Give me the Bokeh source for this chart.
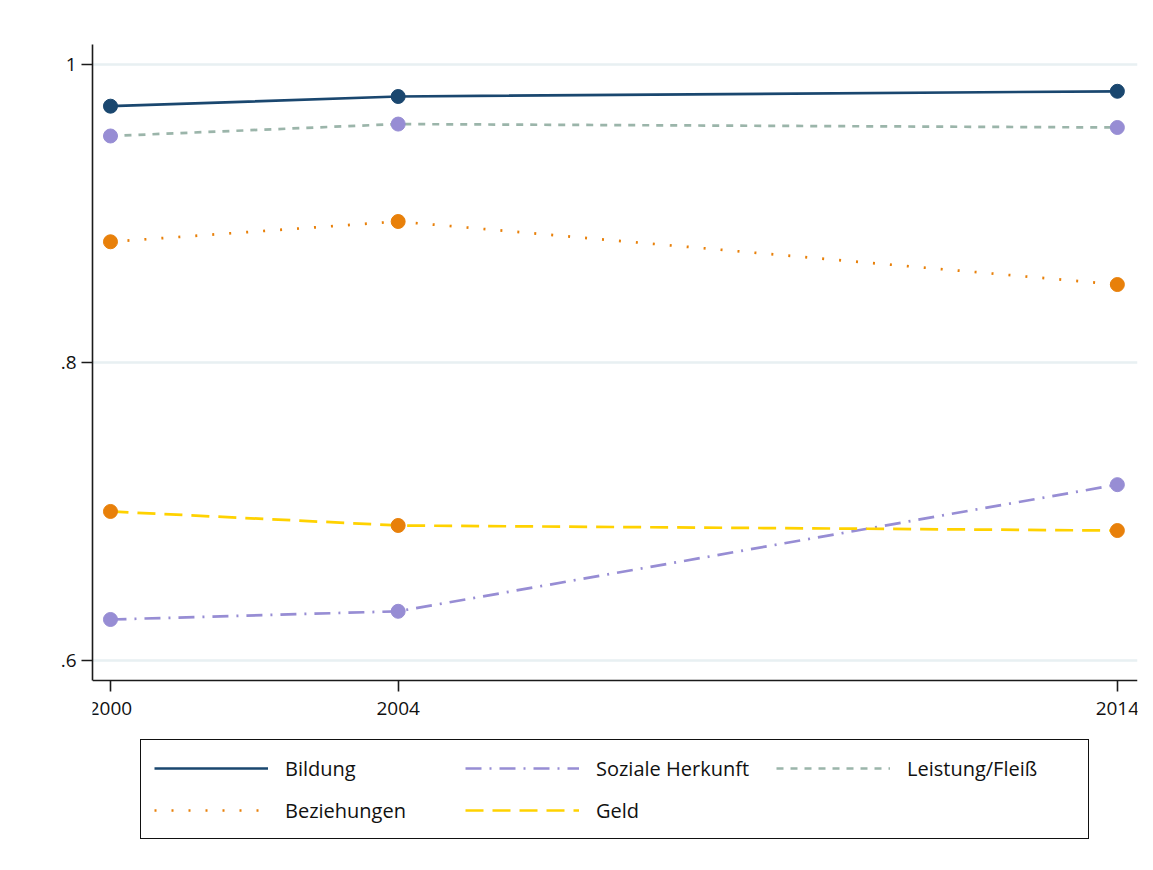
from bokeh.plotting import figure
from bokeh.models import Legend, LegendItem, FixedTicker, Range1d
from bokeh.embed import file_html
from bokeh.resources import INLINE

years = [2000, 2004, 2014]
bildung = [0.972, 0.9785, 0.982]
soziale = [0.6275, 0.633, 0.718]
leistung = [0.952, 0.960, 0.9577]
beziehungen = [0.881, 0.8946, 0.8523]
geld = [0.700, 0.6906, 0.6872]

x_ticks = [2000, 2004, 2014]
y_ticks = [0.6, 0.8, 1.0]
y_tick_labels = [".6", ".8", "1"]

FONT = "Open Sans"

Y_TOP = 1.0134
Y_AXIS_BOTTOM = 0.5866
Y_FRAME_BOTTOM = Y_TOP - 806 / 1490.0

p = figure(width=1145, height=860, output_backend="svg", toolbar_location=None,
           x_range=Range1d(1999.75, 2014.28), y_range=Range1d(Y_FRAME_BOTTOM, Y_TOP),
           min_border_left=92, min_border_right=8, min_border_top=44, min_border_bottom=10)
p.outline_line_color = None
p.background_fill_color = "white"
p.border_fill_color = "white"

navy = "#1a476f"
lav = "#978dd4"
sea = "#9bb5aa"
orange = "#e8800a"
gold = "#ffd200"

lw = 2.7
r_bild = p.line(years, bildung, line_color=navy, line_width=lw)
r_soz = p.line(years, soziale, line_color=lav, line_width=lw, line_dash="16 8 2 8")
r_lei = p.line(years, leistung, line_color=sea, line_width=lw, line_dash="7 7")
r_bez = p.line(years, beziehungen, line_color=orange, line_width=lw, line_dash="2 15")
r_geld = p.line(years, geld, line_color=gold, line_width=lw, line_dash="18 9")

ms = 14
p.scatter(years, bildung, size=ms, color=navy)
p.scatter(years, soziale, size=ms, color=lav)
p.scatter(years, leistung, size=ms, color=lav)
p.scatter(years, beziehungen, size=ms, color=orange)
p.scatter(years, geld, size=ms, color=orange)

p.xaxis.ticker = FixedTicker(ticks=x_ticks)
p.xaxis.fixed_location = Y_AXIS_BOTTOM
p.yaxis.ticker = FixedTicker(ticks=y_ticks)
p.yaxis.bounds = (Y_AXIS_BOTTOM, Y_TOP)
p.yaxis.major_label_overrides = {t: l for t, l in zip(y_ticks, y_tick_labels)}
for ax in (p.xaxis, p.yaxis):
    ax.axis_line_color = "#1a1a1a"
    ax.axis_line_width = 1.6
    ax.major_tick_line_color = "#1a1a1a"
    ax.major_tick_line_width = 1.6
    ax.major_tick_out = 11
    ax.major_tick_in = 0
    ax.minor_tick_line_color = None
    ax.major_label_text_font = FONT
    ax.major_label_text_font_size = "19px"
    ax.major_label_text_color = "#111111"
p.xaxis.major_label_standoff = 11
p.yaxis.major_label_standoff = 5
p.xgrid.grid_line_color = None
p.ygrid.grid_line_color = "#e8f0f2"
p.ygrid.grid_line_width = 2.5

legend = Legend(items=[
    LegendItem(label="Bildung", renderers=[r_bild]),
    LegendItem(label="Soziale Herkunft", renderers=[r_soz]),
    LegendItem(label="Leistung/Fleiß", renderers=[r_lei]),
    LegendItem(label="Beziehungen", renderers=[r_bez]),
    LegendItem(label="Geld", renderers=[r_geld]),
], ncols=3, orientation="horizontal", location=(48, 11))
legend.label_text_font = FONT
legend.label_text_font_size = "20px"
legend.label_text_color = "#111111"
legend.glyph_width = 114
legend.glyph_height = 30
legend.label_standoff = 17
legend.label_height = 30
legend.label_width = 168
legend.spacing = 12
legend.padding = 13
legend.margin = 0
legend.border_line_color = "#111111"
legend.border_line_alpha = 1.0
legend.border_line_width = 1.6
legend.background_fill_alpha = 1
p.add_layout(legend, "center")

open("out.html", "w").write(file_html(p, INLINE))
